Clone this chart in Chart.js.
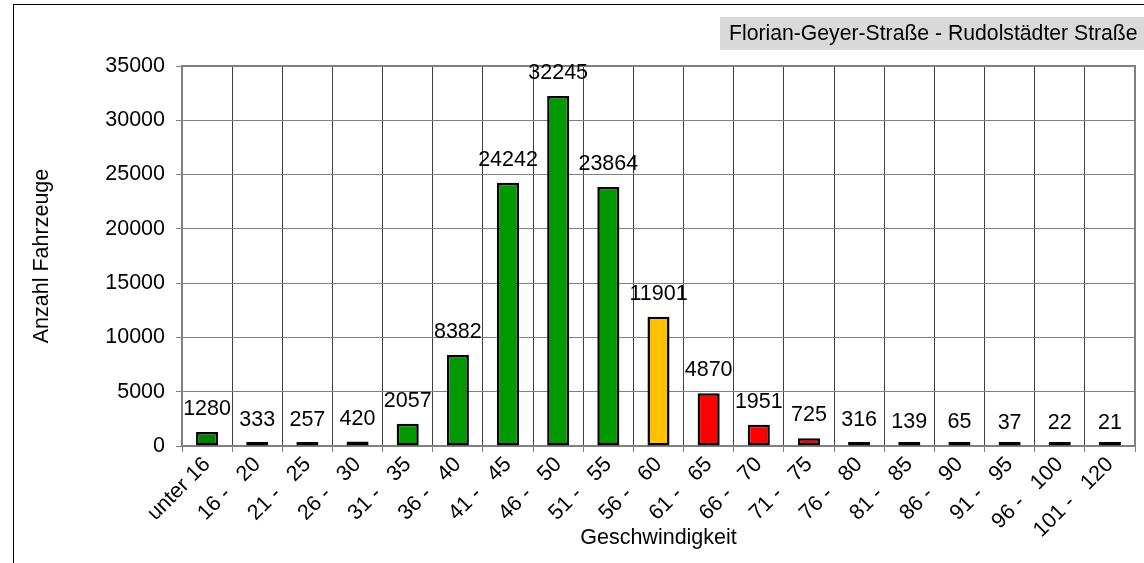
<!DOCTYPE html>
<html>
<head>
<meta charset="utf-8">
<script src="https://cdn.jsdelivr.net/npm/chart.js@4"></script>
<style>
  html, body { margin: 0; padding: 0; background: #fff; }
  #wrap { width: 1144px; height: 563px; position: relative; }
</style>
</head>
<body>
<div id="wrap"><canvas id="myChart"></canvas></div>
<script>
// ---------------- 데이터 ----------------
const categories = [
  "unter 16", "16 -   20", "21 -   25", "26 -   30", "31 -   35",
  "36 -   40", "41 -   45", "46 -   50", "51 -   55", "56 -   60",
  "61 -   65", "66 -   70", "71 -   75", "76 -   80", "81 -   85",
  "86 -   90", "91 -   95", "96 -   100", "101 -   120"
];
const counts = [1280, 333, 257, 420, 2057, 8382, 24242, 32245, 23864, 11901,
  4870, 1951, 725, 316, 139, 65, 37, 22, 21];
const barColors = [
  "#008000", "#009900", "#009900", "#009900", "#009900",
  "#009900", "#009900", "#009900", "#009900", "#FFC000",
  "#FF0000", "#FF0000", "#FF0000", "#FF0000", "#FF0000",
  "#FF0000", "#FF0000", "#FF0000", "#FF0000"
];
const yTicks = [0, 5000, 10000, 15000, 20000, 25000, 30000, 35000];
const chartTitle = "Florian-Geyer-Straße - Rudolstädter Straße";

const FONT = "'Liberation Sans', Arial, sans-serif";
const FSIZE = 21.5;

// ---------------- 플러그인 ----------------
// 바깥 테두리 + 제목 상자
const framePlugin = {
  id: "frame",
  beforeDraw(chart) {
    const ctx = chart.ctx;
    ctx.save();
    ctx.fillStyle = "#fff";
    ctx.fillRect(0, 0, chart.width, chart.height);
    ctx.strokeStyle = "#000";
    ctx.lineWidth = 1;
    ctx.strokeRect(13.5, 4.5, 2000, 2000);
    // 제목 상자
    ctx.fillStyle = "#D9D9D9";
    ctx.fillRect(720, 17, 430, 33);
    ctx.fillStyle = "#000";
    ctx.font = "21.2px " + FONT;
    ctx.textBaseline = "middle";
    ctx.textAlign = "left";
    ctx.fillText(chartTitle, 729, 34);
    ctx.restore();
  },
};

// 막대 위 값 표시
const valueLabelPlugin = {
  id: "valueLabels",
  afterDatasetsDraw(chart) {
    const ctx = chart.ctx;
    const meta = chart.getDatasetMeta(0);
    const yScale = chart.scales.y;
    ctx.save();
    ctx.fillStyle = "#000";
    ctx.font = FSIZE + "px " + FONT;
    ctx.textAlign = "center";
    ctx.textBaseline = "bottom";
    meta.data.forEach((bar, i) => {
      const top = yScale.getPixelForValue(counts[i]);
      ctx.fillText(String(counts[i]), bar.x, top - 12);
    });
    ctx.restore();
  },
};

// 플롯 테두리 (위, 오른쪽)
const plotBorderPlugin = {
  id: "plotBorder",
  beforeDatasetsDraw(chart) {
    const { left, right, top, bottom } = chart.chartArea;
    const ctx = chart.ctx;
    ctx.save();
    ctx.strokeStyle = "#808080";
    ctx.lineWidth = 2;
    ctx.beginPath();
    ctx.moveTo(left, top);
    ctx.lineTo(right, top);
    ctx.lineTo(right, bottom);
    ctx.stroke();
    ctx.restore();
  },
};

const config = {
  type: "bar",
  data: {
    labels: categories,
    datasets: [
      {
        data: counts,
        backgroundColor: barColors,
        borderColor: "#000",
        borderWidth: 2.5,
        borderSkipped: false,
        minBarLength: 4,
        categoryPercentage: 1,
        barPercentage: 0.44,
      },
    ],
  },
  options: {
    responsive: true,
    maintainAspectRatio: false,
    animation: false,
    layout: { padding: { left: 0, right: 9, top: 66, bottom: 0 } },
    plugins: {
      legend: { display: false },
      tooltip: { enabled: false },
    },
    scales: {
      x: {
        grid: {
          offset: true,
          color: "#404040",
          lineWidth: 1,
          tickLength: 6,
          tickColor: "#808080",
        },
        border: { color: "#808080", width: 2 },
        ticks: {
          color: "#000",
          font: { family: FONT, size: FSIZE },
          minRotation: 45,
          maxRotation: 45,
          autoSkip: false,
          padding: 0,
        },
        title: {
          display: true,
          text: "Geschwindigkeit",
          color: "#000",
          font: { family: FONT, size: FSIZE },
          padding: { top: 0, bottom: 12 },
        },
        afterFit(scale) {
          scale.height = 117;
        },
      },
      y: {
        min: 0,
        max: 35000,
        afterBuildTicks(scale) {
          scale.ticks = yTicks.map((v) => ({ value: v }));
        },
        grid: {
          color: "#808080",
          lineWidth: 1,
          tickLength: 6,
        },
        border: { color: "#808080", width: 2 },
        ticks: {
          color: "#000",
          font: { family: FONT, size: FSIZE },
          padding: 11,
          callback: (v) => String(v),
        },
        title: {
          display: true,
          text: "Anzahl Fahrzeuge",
          color: "#000",
          font: { family: FONT, size: FSIZE },
          padding: { top: 29, bottom: 0 },
        },
        afterFit(scale) {
          scale.width = 182;
        },
      },
    },
  },
  plugins: [framePlugin, plotBorderPlugin, valueLabelPlugin],
};

new Chart(document.getElementById("myChart"), config);
</script>
</body>
</html>
